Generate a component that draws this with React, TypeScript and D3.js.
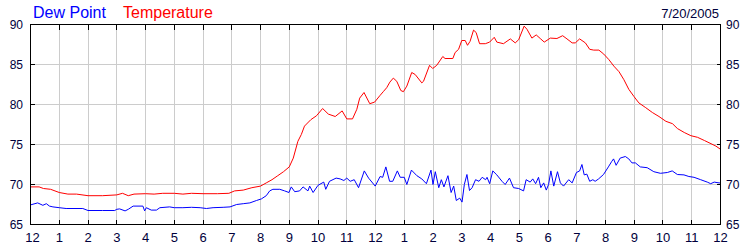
import React from "react";
import * as d3 from "d3";

const temperature: [number, number][] = [
  [0, 69.7], [0.3, 69.7], [0.45, 69.5], [0.7, 69.4], [1.0, 69.0], [1.3, 68.8], [1.6, 68.8], [2.0, 68.6],
  [2.5, 68.6], [3.0, 68.7], [3.2, 68.9], [3.4, 68.6], [3.6, 68.8], [4.0, 68.85], [4.3, 68.8], [4.6, 68.9],
  [5.0, 68.9], [5.3, 68.8], [5.6, 68.9], [6.0, 68.85], [6.5, 68.85], [6.9, 68.9], [7.1, 69.2], [7.4, 69.3],
  [7.7, 69.6], [8.0, 69.8], [8.2, 70.2], [8.4, 70.6], [8.6, 71.1], [8.8, 71.6], [9.0, 72.2], [9.14, 73.3],
  [9.3, 75.4], [9.42, 76.25], [9.53, 77.3], [9.75, 78.1], [9.95, 78.6], [10.16, 79.5], [10.36, 78.8],
  [10.6, 78.5], [10.84, 79.2], [11.0, 78.2], [11.2, 78.2], [11.35, 79.4], [11.45, 80.8], [11.6, 81.5],
  [11.8, 80.1], [11.97, 80.3], [12.15, 81.1], [12.27, 81.6], [12.39, 82.1], [12.5, 82.8], [12.62, 83.3],
  [12.74, 82.9], [12.88, 81.75], [12.97, 81.6], [13.09, 82.3], [13.26, 84.0], [13.38, 83.75], [13.61, 82.7],
  [13.67, 82.9], [13.88, 84.9], [13.99, 84.5], [14.13, 84.9], [14.34, 86.0], [14.42, 85.75], [14.69, 85.75],
  [14.77, 86.5], [14.89, 86.9], [15.0, 88.0], [15.12, 88.0], [15.2, 87.4], [15.29, 87.9], [15.41, 89.3],
  [15.5, 89.0], [15.62, 87.6], [15.82, 87.6], [15.97, 87.8], [16.13, 88.4], [16.22, 87.8], [16.45, 87.6],
  [16.69, 88.2], [16.86, 87.7], [16.98, 88.1], [17.17, 89.8], [17.27, 89.4], [17.44, 88.3], [17.59, 88.7],
  [17.73, 88.25], [17.87, 87.8], [18.08, 88.3], [18.31, 88.25], [18.51, 88.6], [18.66, 88.2], [18.84, 87.7],
  [18.95, 87.7], [19.1, 88.2], [19.3, 87.7], [19.45, 86.9], [19.59, 86.8], [19.77, 86.8], [19.94, 86.3],
  [20.12, 85.6], [20.29, 84.8], [20.47, 84.1], [20.64, 83.1], [20.81, 81.9], [20.99, 81.0], [21.16, 80.2],
  [21.4, 79.6], [21.63, 79.0], [21.86, 78.5], [22.1, 77.9], [22.33, 77.6], [22.5, 77.0], [22.74, 76.5],
  [22.97, 76.1], [23.2, 75.9], [23.44, 75.5], [23.67, 75.1], [23.84, 74.8], [24.0, 74.4],
];

const dewPoint: [number, number][] = [
  [0, 67.45], [0.25, 67.7], [0.43, 67.4], [0.55, 67.6], [0.66, 67.3], [0.78, 67.2], [1.0, 67.1], [1.24, 67.0],
  [1.82, 67.0], [2.0, 66.75], [2.5, 66.75], [2.93, 66.75], [3.0, 66.9], [3.1, 66.95], [3.29, 66.7], [3.4, 66.9],
  [3.57, 67.3], [3.91, 67.3], [3.97, 66.7], [4.03, 67.1], [4.2, 66.8], [4.38, 66.8], [4.5, 67.1], [4.84, 67.2],
  [5.0, 67.1], [5.3, 67.1], [5.6, 67.15], [5.9, 67.1], [6.12, 67.0], [6.35, 67.1], [6.7, 67.15], [6.94, 67.2],
  [7.17, 67.5], [7.4, 67.6], [7.63, 67.7], [7.86, 68.0], [8.03, 68.2], [8.2, 68.6], [8.32, 69.2], [8.43, 69.4],
  [8.67, 69.4], [8.84, 69.2], [8.99, 69.0], [9.07, 69.7], [9.19, 69.1], [9.36, 69.2], [9.48, 69.7], [9.65, 69.2],
  [9.71, 69.8], [9.83, 69.0], [10.0, 69.9], [10.2, 70.3], [10.27, 69.4], [10.4, 70.4], [10.63, 70.8], [10.77, 70.7],
  [10.9, 70.5], [11.0, 70.8], [11.12, 70.4], [11.26, 70.6], [11.41, 69.6], [11.61, 71.7], [11.76, 70.8],
  [11.99, 69.8], [12.16, 71.0], [12.25, 70.9], [12.36, 72.2], [12.49, 70.4], [12.6, 70.4], [12.76, 71.7],
  [12.86, 70.9], [13.0, 70.9], [13.09, 70.0], [13.25, 71.8], [13.44, 71.1], [13.61, 70.7], [13.77, 70.1],
  [13.93, 71.8], [14.0, 70.0], [14.08, 71.6], [14.2, 69.6], [14.29, 70.6], [14.38, 69.7], [14.52, 71.1],
  [14.63, 69.0], [14.72, 69.8], [14.81, 68.0], [14.93, 68.3], [15.01, 67.8], [15.09, 70.0], [15.18, 71.25],
  [15.27, 69.25], [15.36, 69.6], [15.48, 70.6], [15.6, 70.4], [15.71, 70.9], [15.83, 70.6], [15.88, 70.9],
  [15.97, 70.1], [16.08, 71.7], [16.22, 71.2], [16.4, 70.4], [16.51, 70.0], [16.66, 70.8], [16.8, 69.6],
  [16.98, 69.5], [17.15, 69.2], [17.24, 70.6], [17.38, 70.3], [17.47, 70.7], [17.57, 70.1], [17.67, 70.9],
  [17.75, 69.6], [17.85, 70.2], [17.94, 69.3], [18.02, 70.0], [18.1, 71.7], [18.2, 69.8], [18.33, 71.6],
  [18.43, 70.2], [18.54, 69.8], [18.72, 70.6], [18.84, 70.2], [18.99, 71.5], [19.1, 71.7], [19.18, 72.5],
  [19.26, 71.2], [19.35, 71.3], [19.45, 70.4], [19.56, 70.6], [19.64, 70.4], [19.76, 70.7], [19.93, 71.25],
  [20.1, 72.2], [20.22, 72.9], [20.28, 73.2], [20.37, 72.4], [20.51, 73.3], [20.69, 73.5], [20.81, 73.2],
  [20.92, 72.7], [21.04, 72.7], [21.21, 72.2], [21.45, 72.1], [21.68, 71.6], [21.91, 71.4], [22.15, 71.5],
  [22.32, 71.7], [22.5, 71.25], [22.73, 71.2], [22.9, 71.0], [23.08, 70.9], [23.31, 70.6], [23.54, 70.3],
  [23.66, 70.1], [23.78, 70.3], [23.95, 70.2], [24.0, 70.2],
];

const hourTicks = d3.range(0, 25);
const hourLabels = ["12", "1", "2", "3", "4", "5", "6", "7", "8", "9", "10", "11", "12", "1", "2", "3", "4", "5", "6", "7", "8", "9", "10", "11", "12"];
const yTicks = [65, 70, 75, 80, 85, 90];
const seriesNames = ["Dew Point", "Temperature"];
const dateLabel = "7/20/2005";

const W = 750;
const H = 250;
const FONT = "'Liberation Sans', Arial, sans-serif";
const LABEL = "#00003c";

export default function App() {
  const x = d3.scaleLinear().domain([0, 24]).range([30.5, 720.5]);
  const y = d3.scaleLinear().domain([65, 90]).range([224.5, 24.5]);
  const gx = (h: number) => Math.round(x(h) - 0.5) + 0.5;
  const line = d3
    .line<[number, number]>()
    .x((d) => x(d[0]))
    .y((d) => y(d[1]));
  const left = x(0);
  const right = x(24);
  const top = y(90);
  const bottom = y(65);

  return (
    <svg
      width={W}
      height={H}
      style={{ position: "absolute", left: 0, top: 0, background: "#fff" }}
      fontFamily={FONT}
    >
      <rect x={0} y={0} width={W} height={H} fill="#fff" />
      <g shapeRendering="crispEdges" stroke="#cccccc" strokeWidth={1}>
        {hourTicks.slice(1, -1).map((h) => (
          <line key={"gx" + h} x1={gx(h)} x2={gx(h)} y1={top} y2={bottom} />
        ))}
        {yTicks.slice(1, -1).map((v) => (
          <line key={"gy" + v} x1={left} x2={right} y1={y(v)} y2={y(v)} />
        ))}
      </g>
      <g shapeRendering="crispEdges" stroke="#000" strokeWidth={1}>
        {hourTicks.slice(1, -1).map((h) => (
          <g key={"t" + h}>
            <line x1={gx(h)} x2={gx(h)} y1={top} y2={top + 5} />
            <line x1={gx(h)} x2={gx(h)} y1={bottom} y2={bottom - 5} />
          </g>
        ))}
        {yTicks.slice(1, -1).map((v) => (
          <g key={"ty" + v}>
            <line x1={left} x2={left + 4} y1={y(v)} y2={y(v)} />
            <line x1={right} x2={right - 4} y1={y(v)} y2={y(v)} />
          </g>
        ))}
      </g>
      <path d={line(dewPoint) || ""} fill="none" stroke="#0000ff" strokeWidth={1} />
      <path d={line(temperature) || ""} fill="none" stroke="#ff0000" strokeWidth={1} />
      <rect
        x={left}
        y={top}
        width={right - left}
        height={bottom - top}
        fill="none"
        stroke="#000"
        strokeWidth={1}
        shapeRendering="crispEdges"
      />
      <g fontSize={12} fill={LABEL}>
        {yTicks.map((v) => (
          <g key={"yl" + v}>
            <text x={23} y={y(v) + 4.5} textAnchor="end">{v}</text>
            <text x={726} y={y(v) + 4.5} textAnchor="start">{v}</text>
          </g>
        ))}
      </g>
      <g fontSize={13} fill={LABEL}>
        {hourTicks.map((h) => (
          <text key={"xl" + h} x={x(h) + (h === 0 ? 2 : 0)} y={242} textAnchor="middle">
            {hourLabels[h]}
          </text>
        ))}
      </g>
      <text x={33} y={17.5} fontSize={16} fill="#0000ff">{seriesNames[0]}</text>
      <text x={123} y={17.5} fontSize={16} fill="#ff0000">{seriesNames[1]}</text>
      <text x={719} y={17.5} fontSize={13} fill={LABEL} textAnchor="end">{dateLabel}</text>
    </svg>
  );
}
